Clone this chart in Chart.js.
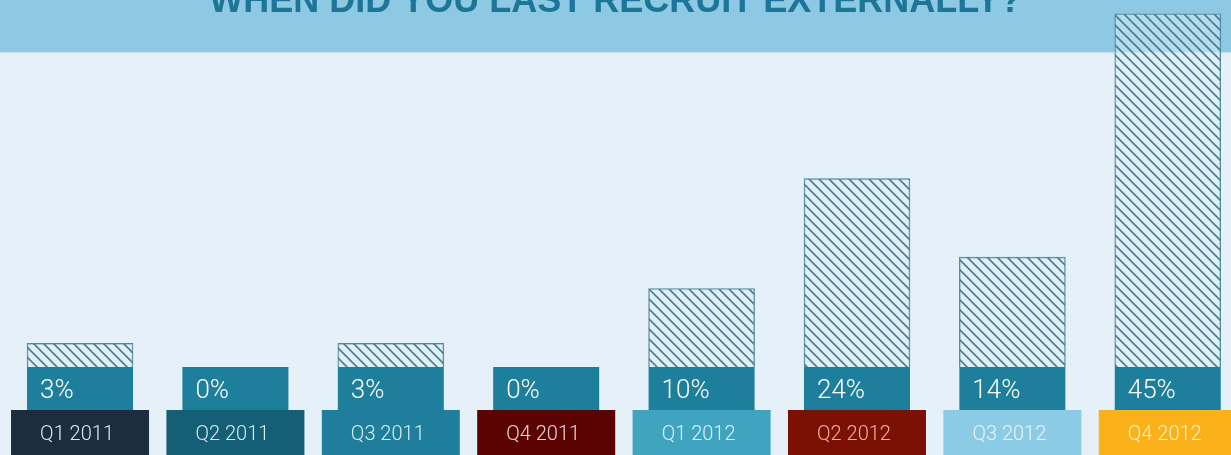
<!DOCTYPE html>
<html>
<head>
<meta charset="utf-8">
<script src="https://cdn.jsdelivr.net/npm/chart.js@4.4.1/dist/chart.umd.min.js"></script>
<style>
  html, body { margin: 0; padding: 0; background: #e5f0f8; overflow: hidden; }
  #wrap { width: 1231px; height: 455px; }
</style>
</head>
<body>
<div id="wrap"><canvas id="c" width="1231" height="455"></canvas></div>
<script>
// Survey: when did you last recruit externally? (share of respondents, %)
const TITLE = 'WHEN DID YOU LAST RECRUIT EXTERNALLY?';
const categories = ['Q1 2011', 'Q2 2011', 'Q3 2011', 'Q4 2011', 'Q1 2012', 'Q2 2012', 'Q3 2012', 'Q4 2012'];
const shares = [3, 0, 3, 0, 10, 24, 14, 45];

// Quarter tag colours (box fill, text colour)
const tagFill = ['#1b2d3e', '#145e76', '#1f7e9b', '#5b0303', '#40a3c0', '#7b1104', '#8ccbe6', '#fbb21a'];
const tagText = ['#dfe6ea', '#d6e8ee', '#d6eef5', '#ead6d6', '#d9f2f8', '#f5b0a0', '#e4f4fa', '#fff1c4'];

// Diagonal hatch used for the bars
function makeHatch() {
  const s = 10;
  const t = document.createElement('canvas');
  t.width = s; t.height = s;
  const g = t.getContext('2d');
  g.fillStyle = 'rgba(218,240,250,0.5)';
  g.fillRect(0, 0, s, s);
  g.strokeStyle = 'rgba(70,118,134,0.95)';
  g.lineWidth = 1.6;
  g.beginPath();
  g.moveTo(-2, -2); g.lineTo(s + 2, s + 2);
  g.moveTo(-2, s - 2); g.lineTo(2, s + 2);
  g.moveTo(s - 2, -2); g.lineTo(s + 2, 2);
  g.stroke();
  return g.createPattern(t, 'repeat');
}

const ctx = document.getElementById('c').getContext('2d');

// Background, header band and title
const backdrop = {
  id: 'backdrop',
  beforeDraw(chart) {
    const c = chart.ctx, w = chart.width, h = chart.height;
    c.save();
    c.fillStyle = '#e5f0f8';
    c.fillRect(0, 0, w, h);
    c.fillStyle = '#8dc9e3';
    c.fillRect(0, 0, w, 52);
    c.fillStyle = '#c9e5f1';
    c.fillRect(0, 52, w, 1.5);
    c.fillStyle = '#1d7697';
    c.font = 'bold 36px "Liberation Sans", Arial, sans-serif';
    c.textAlign = 'center';
    c.textBaseline = 'alphabetic';
    c.fillText(TITLE, w / 2, 12);
    c.restore();
  }
};

// Value boxes and quarter tags under every bar
const tags = {
  id: 'tags',
  afterDatasetsDraw(chart) {
    const c = chart.ctx;
    const meta = chart.getDatasetMeta(0);
    const base = chart.scales.y.getPixelForValue(0);
    c.save();
    meta.data.forEach((bar, i) => {
      const x = bar.x;
      // value box
      c.fillStyle = '#1d7f9c';
      c.fillRect(x - 53, base, 106, 43);
      c.fillStyle = '#ffffff';
      c.font = '300 26px Roboto, "Open Sans", sans-serif';
      c.textAlign = 'left';
      c.textBaseline = 'alphabetic';
      c.fillText(shares[i] + '%', x - 40, base + 31);
      // quarter tag
      c.fillStyle = tagFill[i];
      c.fillRect(x - 69, base + 43, 138, 50);
      c.fillStyle = tagText[i];
      c.font = '300 20px Roboto, "Open Sans", sans-serif';
      c.textAlign = 'center';
      c.fillText(categories[i], x - 3, base + 73);
    });
    c.restore();
  }
};

const pxPerPct = 7.85;
const zeroY = 367;

new Chart(ctx, {
  type: 'bar',
  data: {
    labels: categories,
    datasets: [{
      data: categories.map((c, i) => ({ x: i, y: shares[i] })),
      backgroundColor: makeHatch(),
      borderColor: '#4f8a9e',
      borderWidth: 1,
      borderSkipped: 'bottom',
      barThickness: 106
    }]
  },
  options: {
    responsive: false,
    animation: false,
    devicePixelRatio: 1,
    layout: { padding: 0 },
    plugins: { legend: { display: false }, tooltip: { enabled: false } },
    scales: {
      x: { type: 'linear', offset: false, bounds: 'ticks', min: -0.515, max: 7.407, display: false },
      y: { min: -(455 - zeroY) / pxPerPct, max: zeroY / pxPerPct, display: false }
    }
  },
  plugins: [backdrop, tags]
});
</script>
</body>
</html>
